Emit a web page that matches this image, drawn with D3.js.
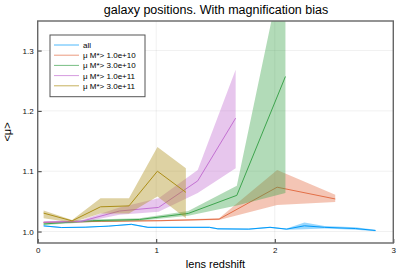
<!DOCTYPE html>
<meta charset="utf-8">
<script src="https://d3js.org/d3.v7.min.js"></script>
<style>
  body { margin: 0; background: #fff; }
  text { font-family: "Liberation Sans", Arial, sans-serif; }
</style>
<div id="chart"></div>
<script>

// series data: redshift, mean, lower, upper
const labels = ["all", "μ M*> 1.0e+10", "μ M*> 3.0e+10", "μ M*> 1.0e+11", "μ M*> 3.0e+11"];
const colors = ["#009AFA", "#E36F47", "#3EA44E", "#C371D2", "#AC8E18"];

const zAll  = [0.05, 0.20, 0.40, 0.60, 0.79, 0.93, 1.20, 1.45, 1.52, 1.78, 1.96, 2.10, 2.25, 2.42, 2.68, 2.85];
const muAll = [1.0094, 1.0066, 1.0072, 1.009, 1.012, 1.007, 1.007, 1.007, 1.0045, 1.004, 1.007, 1.004, 1.0095, 1.007, 1.005, 1.0017];
const loAll = [1.0085, 1.0058, 1.0064, 1.0082, 1.011, 1.006, 1.006, 1.006, 1.0035, 1.003, 1.006, 1.003, 1.004, 1.005, 1.003, 1.0005];
const hiAll = [1.0103, 1.0074, 1.008, 1.0098, 1.013, 1.008, 1.008, 1.008, 1.0055, 1.005, 1.008, 1.005, 1.0150, 1.009, 1.007, 1.0029];

const z10  = [0.05, 0.54, 1.04, 1.53, 2.02, 2.51];
const mu10 = [1.015, 1.017, 1.018, 1.0205, 1.0735, 1.054];
const lo10 = [1.014, 1.016, 1.017, 1.019, 1.044, 1.049];
const hi10 = [1.016, 1.018, 1.019, 1.022, 1.102, 1.061];

const z30  = [0.05, 0.46, 0.86, 1.27, 1.68, 2.09];
const mu30 = [1.0125, 1.018, 1.020, 1.030, 1.060, 1.257];
const lo30 = [1.011, 1.016, 1.018, 1.026, 1.043, 1.064];
const hi30 = [1.014, 1.020, 1.022, 1.034, 1.076, 1.46];

const z100  = [0.05, 0.37, 0.69, 1.02, 1.35, 1.67];
const mu100 = [1.0155, 1.017, 1.034, 1.040, 1.084, 1.188];
const lo100 = [1.014, 1.015, 1.028, 1.033, 1.064, 1.105];
const hi100 = [1.017, 1.019, 1.040, 1.055, 1.102, 1.268];

const z300  = [0.05, 0.29, 0.53, 0.77, 1.01, 1.25];
const mu300 = [1.0305, 1.0177, 1.041, 1.0425, 1.100, 1.065];
const lo300 = [1.022, 1.015, 1.030, 1.030, 1.058, 1.022];
const hi300 = [1.035, 1.019, 1.055, 1.055, 1.140, 1.105];

const xTicks = [0, 1, 2, 3];
const yTicks = [1.0, 1.1, 1.2, 1.3];

const series = [
  [zAll, muAll, loAll, hiAll],
  [z10, mu10, lo10, hi10],
  [z30, mu30, lo30, hi30],
  [z100, mu100, lo100, hi100],
  [z300, mu300, lo300, hi300]
].map((s, i) => ({
  label: labels[i], color: colors[i],
  pts: s[0].map((z, j) => ({z: z, mu: s[1][j], lo: s[2][j], hi: s[3][j]}))
}));

const W = 407, H = 271;
const margin = {top: 21, right: 13.7, bottom: 28, left: 37.7};
const width = W - margin.left - margin.right,
      height = H - margin.top - margin.bottom;

const svg = d3.select("#chart").append("svg")
    .attr("width", W).attr("height", H);

svg.append("defs").append("clipPath").attr("id", "clip")
  .append("rect").attr("width", width).attr("height", height);

const g = svg.append("g")
    .attr("transform", `translate(${margin.left},${margin.top})`);

const x = d3.scaleLinear().domain([0, 3]).range([0, width]);
const y = d3.scaleLinear().domain([0.981, 1.349]).range([height, 0]);

// grid
g.append("g").selectAll("line").data(xTicks).join("line")
  .attr("x1", d => x(d)).attr("x2", d => x(d))
  .attr("y1", 0).attr("y2", height)
  .attr("stroke", "#000").attr("stroke-opacity", 0.1).attr("stroke-width", 0.6);
g.append("g").selectAll("line").data(yTicks).join("line")
  .attr("y1", d => y(d)).attr("y2", d => y(d))
  .attr("x1", 0).attr("x2", width)
  .attr("stroke", "#000").attr("stroke-opacity", 0.1).attr("stroke-width", 0.6);

const plot = g.append("g").attr("clip-path", "url(#clip)");

const area = d3.area().x(d => x(d.z)).y0(d => y(d.lo)).y1(d => y(d.hi));
const line = d3.line().x(d => x(d.z)).y(d => y(d.mu));

series.forEach(s => {
  plot.append("path").datum(s.pts)
    .attr("d", area).attr("fill", s.color).attr("fill-opacity", 0.4);
  plot.append("path").datum(s.pts)
    .attr("d", line).attr("fill", "none")
    .attr("stroke", s.color).attr("stroke-width", 1);
});

// axes
const xAxis = g.append("g").attr("transform", `translate(0,${height})`)
  .call(d3.axisBottom(x).tickValues(xTicks).tickFormat(d3.format("d")).tickSizeInner(-4).tickSizeOuter(0).tickPadding(4));
const yAxis = g.append("g")
  .call(d3.axisLeft(y).tickValues(yTicks).tickFormat(d3.format(".1f")).tickSizeInner(-4).tickSizeOuter(0).tickPadding(4));
[xAxis, yAxis].forEach(a => {
  a.select(".domain").remove();
  a.selectAll(".tick line").attr("stroke", "#333").attr("stroke-width", 1);
  a.selectAll("text").attr("font-size", 8).attr("fill", "#111")
    .style("font-family", "'Liberation Sans', Arial, sans-serif");
});

// frame
g.append("rect").attr("width", width).attr("height", height)
  .attr("fill", "none").attr("stroke", "#666").attr("stroke-width", 1.4);

// labels
svg.append("text").attr("x", 216).attr("y", 14).attr("text-anchor", "middle")
  .attr("font-size", 12.5).text("galaxy positions. With magnification bias");
svg.append("text").attr("x", margin.left + width / 2).attr("y", 268).attr("text-anchor", "middle")
  .attr("font-size", 11).text("lens redshift");
svg.append("text").attr("transform", `translate(11,${margin.top + height / 2}) rotate(-90)`)
  .attr("text-anchor", "middle").attr("font-size", 11).text("<μ>");

// legend
const lg = svg.append("g").attr("transform", "translate(50,35)");
lg.append("rect").attr("width", 95).attr("height", 61.7)
  .attr("fill", "#fff").attr("stroke", "#555").attr("stroke-width", 1);
lg.selectAll("g.item").data(series).join("g")
  .attr("transform", (d, i) => `translate(0,${10 + i * 10.2})`)
  .each(function(d) {
    const it = d3.select(this);
    it.append("line").attr("x1", 4).attr("x2", 29).attr("y1", 0).attr("y2", 0)
      .attr("stroke", d.color).attr("stroke-width", 1).attr("stroke-opacity", 0.7);
    it.append("text").attr("x", 33).attr("y", 3).attr("font-size", 8).text(d.label);
  });

</script>
